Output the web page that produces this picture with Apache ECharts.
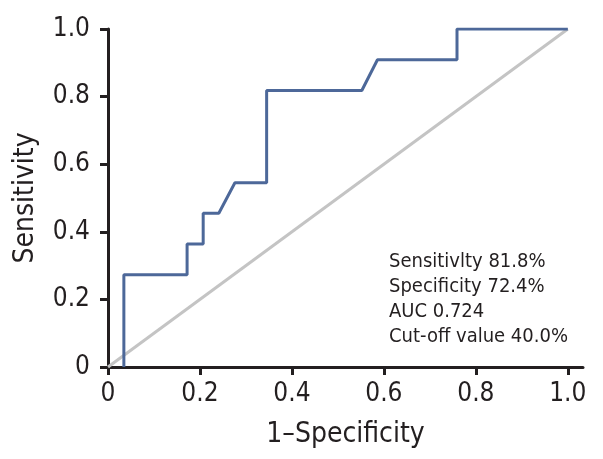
<!DOCTYPE html>
<html>
<head>
<meta charset="utf-8">
<script src="https://cdn.jsdelivr.net/npm/echarts@6/dist/echarts.min.js"></script>
<style>
html,body{margin:0;padding:0;background:#fff;}
#chart{width:603px;height:459px;}
</style>
</head>
<body>
<div id="chart"></div>
<script>
// ROC curve points (1-Specificity, Sensitivity)
const fpr = [0.0345, 0.0345, 0.172, 0.172, 0.207, 0.207, 0.241, 0.276, 0.345, 0.345, 0.552, 0.586, 0.759, 0.759, 1.0];
const tpr = [0, 0.273, 0.273, 0.364, 0.364, 0.455, 0.455, 0.545, 0.545, 0.818, 0.818, 0.909, 0.909, 1.0, 1.0];
// reference diagonal
const refX = [0, 1];
const refY = [0, 1];
// tick values
const tickVals = [0, 0.2, 0.4, 0.6, 0.8, 1.0];
const tickLabels = ['0', '0.2', '0.4', '0.6', '0.8', '1.0'];
// annotation lines
const annotation = ['Sensitivlty 81.8%', 'Specificity 72.4%', 'AUC 0.724', 'Cut-off value 40.0%'];
const xTitle = '1\u2013Specificity';
const yTitle = 'Sensitivity';

const FONT = '"Liberation Sans Narrow", "DejaVu Sans Condensed", "Roboto Condensed", sans-serif';
const TXT = '#231f20';

function fmt(v) {
  const i = tickVals.findIndex(t => Math.abs(t - v) < 1e-6);
  return i >= 0 ? tickLabels[i] : '';
}

const chart = echarts.init(document.getElementById('chart'), null, {renderer: 'canvas'});
const axisCommon = {
  type: 'value',
  min: 0,
  splitLine: {show: false},
  axisLine: {show: true, onZero: false, lineStyle: {color: TXT, width: 3}},
  axisTick: {show: true, inside: false, length: 8, lineStyle: {color: TXT, width: 3}, customValues: tickVals},
  axisLabel: {color: TXT, fontFamily: FONT, fontSize: 26, formatter: fmt, customValues: tickVals},
  nameLocation: 'middle',
  nameTextStyle: {color: TXT, fontFamily: FONT, fontSize: 28}
};

chart.setOption({
  animation: false,
  backgroundColor: '#ffffff',
  grid: {left: 108, right: 20, top: 29, bottom: 92, containLabel: false},
  xAxis: Object.assign({}, axisCommon, {
    max: 1.033,
    name: xTitle,
    nameGap: 54,
    axisLabel: Object.assign({}, axisCommon.axisLabel, {margin: 14})
  }),
  yAxis: Object.assign({}, axisCommon, {
    max: 1.0,
    name: yTitle,
    nameGap: 68,
    axisLabel: Object.assign({}, axisCommon.axisLabel, {margin: 18})
  }),
  series: [
    {
      type: 'line',
      data: refX.map((x, i) => [x, refY[i]]),
      showSymbol: false,
      lineStyle: {color: '#c4c4c4', width: 3},
      z: 2
    },
    {
      type: 'line',
      data: fpr.map((x, i) => [x, tpr[i]]),
      showSymbol: false,
      lineStyle: {color: '#4d6899', width: 3},
      z: 3
    }
  ],
  graphic: [{
    type: 'text',
    left: 389,
    top: 249,
    style: {
      text: annotation.join('\n'),
      font: '20px ' + FONT,
      fill: TXT,
      lineHeight: 25
    }
  }]
});
</script>
</body>
</html>
